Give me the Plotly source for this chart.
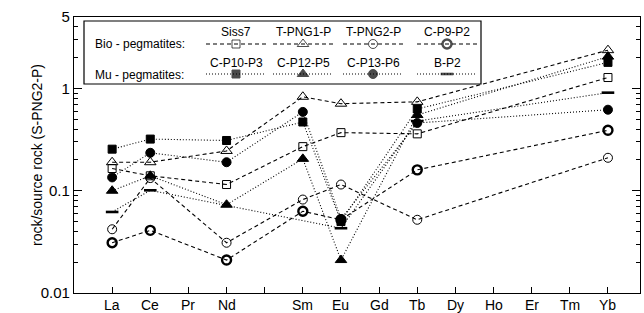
import plotly.graph_objects as go

# ---------------- data ----------------
elements = ["La", "Ce", "Pr", "Nd", "Pm", "Sm", "Eu", "Gd", "Tb", "Dy", "Ho", "Er", "Tm", "Yb"]
tick_labels = ["La", "Ce", "Pr", "Nd", "", "Sm", "Eu", "Gd", "Tb", "Dy", "Ho", "Er", "Tm", "Yb"]
measured = ["La", "Ce", "Nd", "Sm", "Eu", "Tb", "Yb"]

siss7 = [0.165, 0.14, 0.115, 0.27, 0.37, 0.36, 1.28]
t_png1_p = [0.19, 0.19, 0.245, 0.83, 0.71, 0.74, 2.37]
t_png2_p = [0.042, 0.133, 0.031, 0.082, 0.115, 0.052, 0.21]
c_p9_p2 = [0.031, 0.041, 0.021, 0.063, 0.052, 0.16, 0.39]
c_p10_p3 = [0.255, 0.32, 0.31, 0.47, 0.05, 0.63, 1.8]
c_p12_p5 = [0.10, 0.14, 0.073, 0.205, 0.021, 0.55, 2.05]
c_p13_p6 = [0.135, 0.235, 0.19, 0.59, 0.053, 0.46, 0.62]
b_p2 = [0.062, 0.101, None, None, 0.043, 0.48, 0.91]

y_ticks = [0.01, 0.1, 1, 5]
y_tick_text = ["0.01", "0.1", "1", "5"]

# ---------------- styles ----------------
pos = {e: i for i, e in enumerate(elements)}
xs = [pos[e] for e in measured]

series = [
    # name, values, group, symbol, marker line width, size
    ("Siss7", siss7, "bio", "square-open", 1.0, 8),
    ("T-PNG1-P", t_png1_p, "bio", "triangle-up-open", 1.0, 10),
    ("T-PNG2-P", t_png2_p, "bio", "circle-open", 1.0, 9),
    ("C-P9-P2", c_p9_p2, "bio", "circle-open", 2.4, 9),
    ("C-P10-P3", c_p10_p3, "mu", "square", 1.0, 8),
    ("C-P12-P5", c_p12_p5, "mu", "triangle-up", 1.0, 10),
    ("C-P13-P6", c_p13_p6, "mu", "circle", 1.0, 9),
    ("B-P2", b_p2, "mu", "line-ew", 2.6, 9),
]
dash_of = {"bio": "4px,3px", "mu": "1px,2px"}

fig = go.Figure()

for name, vals, grp, sym, mlw, size in series:
    fig.add_trace(go.Scatter(
        x=xs, y=vals, mode="lines+markers", name=name, showlegend=False,
        connectgaps=True,
        line=dict(color="black", width=1.1, dash=dash_of[grp]),
        marker=dict(symbol=sym, size=size, color="black",
                    line=dict(color="black", width=mlw)),
        xaxis="x", yaxis="y",
    ))

# ---------------- custom legend in its own small axes ----------------
col_centers = [152, 219, 289, 363]
row_text_y = [52, 21]
row_mark_y = [40, 10]
half = 30
for k, (name, vals, grp, sym, mlw, size) in enumerate(series):
    r = 0 if grp == "bio" else 1
    c = col_centers[k % 4]
    fig.add_trace(go.Scatter(
        x=[c - half, c, c + half], y=[row_mark_y[r]] * 3,
        mode="lines+markers", showlegend=False, hoverinfo="skip",
        line=dict(color="black", width=1.1, dash=dash_of[grp]),
        marker=dict(symbol=sym, size=[0, size, 0], color="black",
                    line=dict(color="black", width=[0, mlw, 0])),
        xaxis="x2", yaxis="y2",
    ))
    fig.add_annotation(x=c, y=row_text_y[r], xref="x2", yref="y2", text=name,
                       showarrow=False, font=dict(size=12, color="black"))

fig.add_annotation(x=9, y=40, xref="x2", yref="y2", text="Bio - pegmatites:",
                   showarrow=False, xanchor="left", font=dict(size=12, color="black"))
fig.add_annotation(x=9, y=9, xref="x2", yref="y2", text="Mu - pegmatites:",
                   showarrow=False, xanchor="left", font=dict(size=12, color="black"))

fig.add_shape(type="rect", xref="x2 domain", yref="y2 domain", x0=0, x1=1, y0=0, y1=1,
              line=dict(color="black", width=1.2))

# x tick labels as text just under the axis
for i, lab in enumerate(tick_labels):
    if lab:
        fig.add_annotation(x=i, y=0, xref="x", yref="paper", text=lab, showarrow=False,
                           yanchor="top", yshift=-2, font=dict(size=14, color="black"))

# y axis title
fig.add_annotation(x=0, y=0.5, xref="paper", yref="paper", text="rock/source rock (S-PNG2-P)",
                   textangle=-90, showarrow=False, xanchor="center", yanchor="middle",
                   xshift=-37, font=dict(size=14, color="black"))

# ---------------- layout ----------------
L, R, T, B = 74, 4, 17, 20
W, H = 644, 313
pw, ph = W - L - R, H - T - B
lx0, lx1, ly0, ly1 = 84, 481, 21, 84

minor_vals = [v * m for v in (0.01, 0.1, 1) for m in range(2, 10) if v * m < 5]

fig.update_layout(
    width=W, height=H,
    margin=dict(l=L, r=R, t=T, b=B, autoexpand=False),
    paper_bgcolor="white", plot_bgcolor="white",
    font=dict(family="Liberation Sans, Arial, sans-serif", color="black"),
    xaxis=dict(
        range=[-1.0, 13.84], tickvals=list(range(len(elements))), showticklabels=False,
        ticks="inside", ticklen=6, tickcolor="black", showgrid=False, zeroline=False,
        showline=True, linecolor="black", linewidth=1.2, mirror=True,
        automargin=False, fixedrange=True,
    ),
    yaxis=dict(
        type="log", range=[-2, 0.699], tickvals=y_ticks, ticktext=y_tick_text,
        ticks="inside", ticklen=8, tickcolor="black", showgrid=False, zeroline=False,
        showline=True, linecolor="black", linewidth=1.2, mirror="ticks",
        tickfont=dict(size=15), automargin=False, fixedrange=True,
        minor=dict(tickvals=minor_vals, ticks="inside", ticklen=4, tickcolor="black"),
    ),
    xaxis2=dict(domain=[(lx0 - L) / pw, (lx1 - L) / pw], range=[0, lx1 - lx0],
                visible=False, anchor="y2", fixedrange=True),
    yaxis2=dict(domain=[1 - (ly1 - T) / ph, 1 - (ly0 - T) / ph], range=[0, ly1 - ly0],
                visible=False, anchor="x2", fixedrange=True),
)

fig.write_html("out.html", config={"displayModeBar": False},
               post_script="document.body.style.margin='0px';")
